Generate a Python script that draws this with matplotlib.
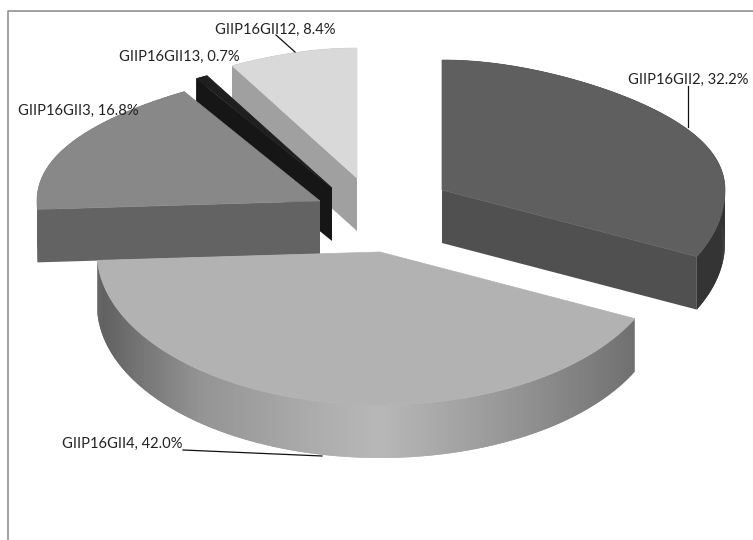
import numpy as np
import matplotlib
matplotlib.use("Agg")
import matplotlib.pyplot as plt
from matplotlib.collections import PolyCollection
from matplotlib.patches import Polygon

# ---- data ----
labels = ["GIIP16GII2", "GIIP16GII4", "GIIP16GII3", "GIIP16GII13", "GIIP16GII12"]
values = [32.2, 42.0, 16.8, 0.7, 8.4]

# ---- geometry and style (pixel-based axes) ----
W, H = 753, 540
A, B_BACK, B_FRONT, DEPTH = 283.0, 130.0, 153.0, 53.0
PERSP = 0.19
apexes = [(442, 190), (380, 252), (320, 201), (332, 188), (357, 178)]
top_cols = ["#5f5f5f", "#b2b2b2", "#888888", "#1f1f1f", "#d9d9d9"]
wall_cols = ["#505050", "#b2b2b2", "#636363", "#161616", "#a0a0a0"]
rim_x = [[0, 282], [-283, -180, -60, 0, 120, 254], [-283, 0], [-130, 0], [-130, 0]]
rim_v = [[0.26, 0.20], [0.37, 0.58, 0.68, 0.72, 0.60, 0.44], [0.39, 0.39], [0.09, 0.09], [0.63, 0.63]]
paint_order = [0, 4, 3, 2, 1]
label_pos = [(628, 80), (62, 444), (18, 111), (119, 57), (215, 30)]
leaders = [((688, 86), (688, 127)), ((183, 450), (322, 456)), ((276, 35), (295, 52))]


def rim(t):
    c, s = np.cos(t), np.sin(t)
    x = A * s * (1 - PERSP * np.clip(c, 0, None) ** 3)
    y = -np.where(c > 0, B_BACK, B_FRONT) * c
    return x, y


fig = plt.figure(figsize=(W / 100, H / 100), dpi=100)
ax = fig.add_axes([0, 0, 1, 1])
ax.set_xlim(0, W)
ax.set_ylim(H, 0)
ax.axis("off")

ax.plot([8.5, 8.5, W], [H, 10.5, 10.5], color="#868686", lw=1.1, solid_capstyle="butt", zorder=1)

edges = 2 * np.pi * np.cumsum([0] + values) / sum(values)
z = 2
for i in paint_order:
    cx, cy = apexes[i]
    t = np.linspace(edges[i], edges[i + 1], max(int(values[i] * 6), 12))
    rx, ry = rim(t)
    px, py = cx + rx, cy + ry
    # outer curved wall: overlapping strips, each painted over the previous one
    n = len(t)
    strips = [[(px[j], py[j]), (px[min(j + 2, n - 1)], py[min(j + 2, n - 1)]),
               (px[min(j + 2, n - 1)], py[min(j + 2, n - 1)] + DEPTH), (px[j], py[j] + DEPTH)]
              for j in range(n - 1)]
    shade = np.interp((rx[:-1] + rx[1:]) / 2, rim_x[i], rim_v[i])
    cols = [(v, v, v) for v in shade]
    ax.add_collection(PolyCollection(strips, facecolors=cols, edgecolors="none", zorder=z))
    # flat radial walls: only those turned towards the viewer
    for k, visible in ((0, np.sin(t[0]) < -1e-6), (-1, np.sin(t[-1]) > 1e-6)):
        if visible:
            ax.add_patch(Polygon([(cx, cy), (px[k], py[k]), (px[k], py[k] + DEPTH), (cx, cy + DEPTH)],
                                 closed=True, fc=wall_cols[i], ec="none", zorder=z + 1))
    # top face
    ax.add_patch(Polygon(np.r_[[(cx, cy)], np.c_[px, py]], closed=True, fc=top_cols[i],
                         ec=top_cols[i], lw=0.5, zorder=z + 2))
    z += 3

for (p, q) in leaders:
    ax.plot([p[0], q[0]], [p[1], q[1]], color="#111111", lw=0.9, zorder=50)

for name, val, (x, y) in zip(labels, values, label_pos):
    ax.text(x, y, f"{name}, {val:.1f}%", family="Lato", fontsize=10.6, color="#222222",
            ha="left", va="center", zorder=60)

fig.savefig("out.png", dpi=100)
